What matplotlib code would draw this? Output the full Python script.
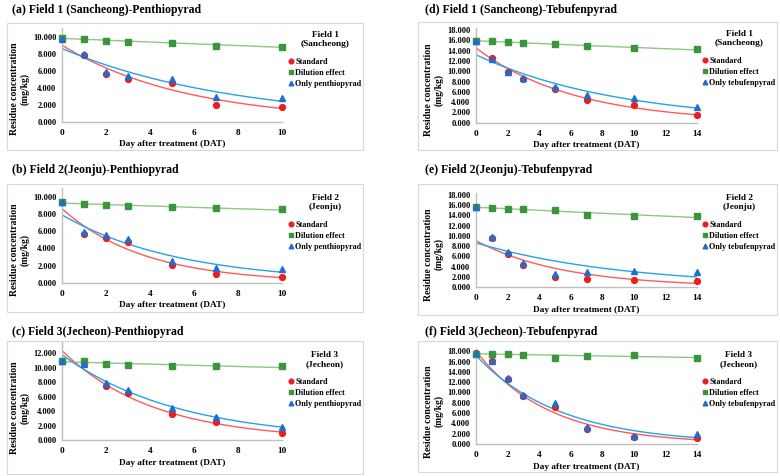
import numpy as np
import matplotlib
matplotlib.use("Agg")
import matplotlib.pyplot as plt
from matplotlib.patches import Rectangle
from matplotlib.ticker import FormatStrFormatter, MultipleLocator

plt.rcParams['font.family'] = ['Liberation Serif', 'DejaVu Serif']
plt.rcParams['font.weight'] = 'bold'

# days after treatment
days_pen = [0, 1, 2, 3, 5, 7, 10]
days_teb = [0, 1, 2, 3, 5, 7, 10, 14]

# penthiopyrad residues (mg/kg)
f1_pen_std = [9.70, 7.84, 5.60, 5.06, 4.50, 2.00, 1.76]
f1_pen_dil = [9.80, 9.75, 9.53, 9.41, 9.29, 8.90, 8.82]
f1_pen_only = [9.75, 7.96, 5.88, 5.37, 5.02, 2.86, 2.75]

f2_pen_std = [9.40, 5.72, 5.25, 4.70, 2.06, 1.05, 0.70]
f2_pen_dil = [9.42, 9.22, 9.10, 8.91, 8.79, 8.68, 8.56]
f2_pen_only = [9.40, 5.88, 5.53, 5.14, 2.53, 1.67, 1.56]

f3_pen_std = [11.00, 10.57, 7.49, 6.53, 3.63, 2.48, 1.06]
f3_pen_dil = [10.99, 10.95, 10.53, 10.44, 10.21, 10.21, 10.21]
f3_pen_only = [11.00, 10.53, 7.95, 6.99, 4.50, 3.22, 1.79]

# tebufenpyrad residues (mg/kg)
f1_teb_std = [15.80, 12.50, 9.78, 8.42, 6.48, 4.47, 3.50, 1.42]
f1_teb_dil = [15.87, 15.80, 15.74, 15.54, 15.35, 14.83, 14.50, 14.25]
f1_teb_only = [15.80, 12.30, 9.90, 8.74, 6.93, 5.44, 4.86, 2.98]

f2_teb_std = [15.60, 9.65, 6.52, 4.24, 2.02, 1.57, 1.43, 1.17]
f2_teb_dil = [15.65, 15.46, 15.33, 15.26, 15.07, 14.15, 13.96, 13.83]
f2_teb_only = [15.60, 9.85, 6.91, 4.70, 2.61, 3.00, 3.13, 2.94]

f3_teb_std = [17.60, 16.13, 12.69, 9.33, 7.19, 2.85, 1.36, 1.17]
f3_teb_dil = [17.55, 17.55, 17.55, 17.36, 16.71, 17.10, 17.23, 16.78]
f3_teb_only = [17.60, 16.19, 12.76, 9.52, 7.97, 3.24, 1.62, 1.88]

titles = ["(a) Field 1 (Sancheong)-Penthiopyrad", "(b) Field 2(Jeonju)-Penthiopyrad",
          "(c) Field 3(Jecheon)-Penthiopyrad", "(d) Field 1 (Sancheong)-Tebufenpyrad",
          "(e) Field 2(Jeonju)-Tebufenpyrad", "(f) Field 3(Jecheon)-Tebufenpyrad"]
field_names = ["Field 1\n(Sancheong)", "Field 2\n(Jeonju)", "Field 3\n(Jecheon)"]
series_names_pen = ["Standard", "Dilution effect", "Only penthiopyrad"]
series_names_teb = ["Standard", "Dilution effect", "Only tebufenpyrad"]

W, H = 780, 476
fig = plt.figure(figsize=(W / 100, H / 100), dpi=100)

mk_colors = ['#ee1c1c', '#3a963a', '#1c6fd0']
ln_colors = ['#ff5a5a', '#94c48a', '#26a3e6']
markers = ['o', 's', '^']


def fx(px):
    return px / W


def fy(py):
    return 1 - py / H


# panel layout in pixels: axes (left, x-axis end, y0 pixel, top pixel), frame, title pos, legend pos
panels = [
    dict(days=days_pen, data=[f1_pen_std, f1_pen_dil, f1_pen_only], names=series_names_pen,
         field=0, title=0, ax=(62, 282, 121.7, 28), ymax=11, yticks=10, xmax=10,
         frame=(7, 23, 363, 150), tpos=(12, 10), leg=(325, 27), ylab_x=20),
    dict(days=days_pen, data=[f2_pen_std, f2_pen_dil, f2_pen_only], names=series_names_pen,
         field=1, title=1, ax=(62, 282, 282.7, 188.4), ymax=11, yticks=10, xmax=10,
         frame=(7, 184, 363, 312), tpos=(12, 170), leg=(325, 190), ylab_x=20),
    dict(days=days_pen, data=[f3_pen_std, f3_pen_dil, f3_pen_only], names=series_names_pen,
         field=2, title=2, ax=(62, 282, 440.3, 342.4), ymax=13.5, yticks=12, xmax=10,
         frame=(7, 341, 363, 474), tpos=(12, 332), leg=(325, 347), ylab_x=20),
    dict(days=days_teb, data=[f1_teb_std, f1_teb_dil, f1_teb_only], names=series_names_teb,
         field=0, title=3, ax=(476, 697, 122.7, 28), ymax=18.4, yticks=18, xmax=14,
         frame=(418, 22, 777, 150), tpos=(425, 10), leg=(739, 26), ylab_x=434),
    dict(days=days_teb, data=[f2_teb_std, f2_teb_dil, f2_teb_only], names=series_names_teb,
         field=1, title=4, ax=(476, 697, 287, 193), ymax=18.4, yticks=18, xmax=14,
         frame=(418, 184, 777, 315), tpos=(425, 170), leg=(739, 190), ylab_x=434),
    dict(days=days_teb, data=[f3_teb_std, f3_teb_dil, f3_teb_only], names=series_names_teb,
         field=2, title=5, ax=(476, 697, 444, 349.2), ymax=18.4, yticks=18, xmax=14,
         frame=(418, 341, 777, 472), tpos=(425, 332), leg=(739, 347), ylab_x=434),
]

for p in panels:
    x0, x1, yb, yt = p['ax']
    l, t, r, b = p['frame']
    fig.add_artist(Rectangle((fx(l), fy(b)), fx(r - l), (b - t) / H, transform=fig.transFigure,
                             fill=False, edgecolor='#d9d9d9', linewidth=0.8))
    fig.text(fx(p['tpos'][0]), fy(p['tpos'][1]), titles[p['title']], fontsize=8.5,
             fontweight='bold', ha='left', va='center')

    ax = fig.add_axes([fx(x0), fy(yb), fx(x1 - x0), (yb - yt) / H])
    ax.patch.set_alpha(0)
    handles = []
    xs = np.linspace(0, p['xmax'], 200)
    d = np.array(p['days'], dtype=float)
    for i, vals in enumerate(p['data']):
        v = np.array(vals)
        # exponential trendline (least squares on log values, like Excel)
        k, c = np.polyfit(d, np.log(v), 1)
        ax.plot(xs, np.exp(c) * np.exp(k * xs), color=ln_colors[i], lw=1.0, zorder=2)
    for i, vals in enumerate(p['data']):
        h, = ax.plot(p['days'], vals, linestyle='none', marker=markers[i], ms=4.2,
                     color=mk_colors[i], label=p['names'][i], clip_on=False, zorder=3)
        handles.append(h)

    ax.set_xlim(0, p['xmax'])
    ax.set_ylim(0, p['ymax'])
    ax.xaxis.set_major_locator(MultipleLocator(2))
    ax.set_yticks(np.arange(0, p['yticks'] + 0.1, 2))
    ax.yaxis.set_major_formatter(FormatStrFormatter('%.3f'))
    for s in ['top', 'right']:
        ax.spines[s].set_visible(False)
    for s in ['left', 'bottom']:
        ax.spines[s].set_color('#bfbfbf')
        ax.spines[s].set_linewidth(1.0)
    ax.tick_params(axis='both', length=0, labelsize=6)
    ax.tick_params(axis='y', pad=4)
    ax.tick_params(axis='x', pad=5, labelsize=6.7)
    for lab in ax.get_xticklabels() + ax.get_yticklabels():
        lab.set_fontweight('bold')

    ax.set_xlabel("Day after treatment (DAT)", fontsize=6.7, fontweight='bold')
    ax.xaxis.set_label_coords(0.5, -22.6 / (yb - yt))
    ax.xaxis.label.set_va('center')
    fig.text(fx(p['ylab_x']), fy(yb - 32.7), "Residue concentration\n(mg/kg)",
             rotation=90, ha='center', va='center', fontsize=6.9, fontweight='bold',
             linespacing=1.15)

    leg = ax.legend(handles=handles, loc='upper center',
                    bbox_to_anchor=(fx(p['leg'][0]), fy(p['leg'][1])),
                    bbox_transform=fig.transFigure, frameon=False,
                    title=field_names[p['field']],
                    title_fontproperties={'size': 6.7, 'weight': 'bold'},
                    prop={'size': 5.9, 'weight': 'bold'}, handlelength=0.5,
                    handletextpad=0.3, labelspacing=0.35, borderpad=0,
                    markerscale=0.8)
    leg.get_title().set_multialignment('center')
    leg._legend_box.sep = 7

fig.savefig("out.png", dpi=100)
